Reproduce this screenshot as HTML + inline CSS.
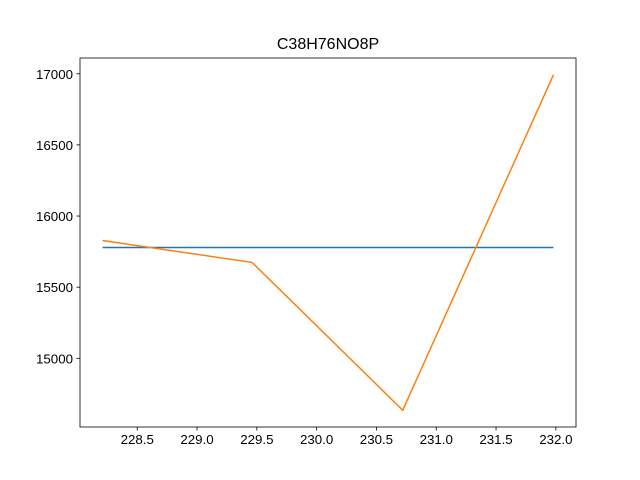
<!DOCTYPE html>
<html><head><meta charset="utf-8"><style>
html,body{margin:0;padding:0;background:#fff;}
svg{display:block;font-family:"Liberation Sans","DejaVu Sans",sans-serif;}
</style></head><body>
<svg id="chart" width="640" height="480">
<rect x="0" y="0" width="640" height="480" fill="#fff"/>
<text x="328" y="49" text-anchor="middle" font-size="16" fill="#000">C38H76NO8P</text>
<g id="plot"></g>
</svg>
<script>
const xValues = [228.21, 229.46, 230.72, 231.98];
const orangeValues = [15828, 15674, 14635, 16993];
const blueValues = [15779, 15779, 15779, 15779];
const xTicks = [228.5, 229.0, 229.5, 230.0, 230.5, 231.0, 231.5, 232.0];
const yTicks = [15000, 15500, 16000, 16500, 17000];

const L=80,R=576,T=58,B=427;
const xmin=Math.min(...xValues),xmax=Math.max(...xValues);
const allY=orangeValues.concat(blueValues);
const ymin=Math.min(...allY),ymax=Math.max(...allY);
const xm=(xmax-xmin)*0.05,ym=(ymax-ymin)*0.05;
const x0=xmin-xm,x1=xmax+xm,y0=ymin-ym,y1=ymax+ym;
function sx(v){return L+(v-x0)/(x1-x0)*(R-L);}
function sy(v){return B-(v-y0)/(y1-y0)*(B-T);}
const NS="http://www.w3.org/2000/svg";
const g=document.getElementById('plot');
function mk(tag,attrs){const e=document.createElementNS(NS,tag);for(const k in attrs)e.setAttribute(k,attrs[k]);g.appendChild(e);return e;}

xTicks.forEach(v=>{
  const x=sx(v);
  const t=mk('line',{x1:x,x2:x,y1:B,y2:B+3.5,stroke:'#000','stroke-width':0.8});
  
  
  const l=mk('text',{x:x,y:B+17,'text-anchor':'middle','font-size':'13.3',fill:'#000'});
  l.textContent=v.toFixed(1);
  
  
});
yTicks.forEach(v=>{
  const y=sy(v);
  const t=mk('line',{x1:L-3.5,x2:L,y1:y,y2:y,stroke:'#000','stroke-width':0.8});
  
  
  const l=mk('text',{x:L-7,y:y+5,'text-anchor':'end','font-size':'13.3',fill:'#000'});
  l.textContent=String(v);
  
  
});
function line(vals,color,name){
  const p=mk('polyline',{points:xValues.map((x,i)=>sx(x)+','+sy(vals[i])).join(' '),fill:'none',stroke:color,'stroke-width':1.5});
  
  
}
line(blueValues,'#1f77b4','series-blue-line');
line(orangeValues,'#ff7f0e','series-orange-line');
const fr=mk('rect',{x:L,y:T,width:R-L,height:B-T,fill:'none',stroke:'#000','stroke-width':0.8});


</script>
</body></html>
